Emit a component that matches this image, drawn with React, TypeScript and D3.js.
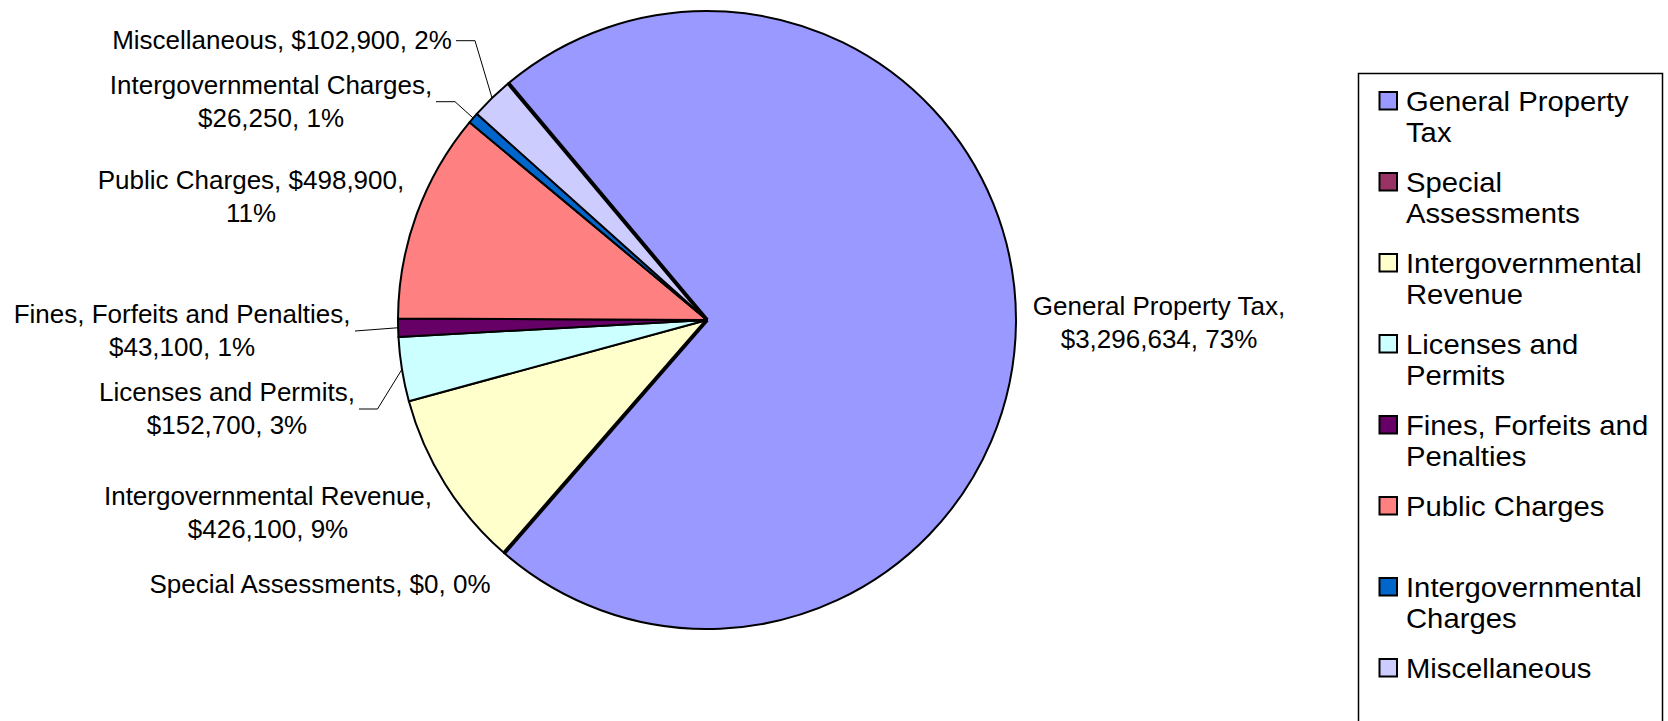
import React from "react";
import * as d3 from "d3";

const categories = [
  "General Property Tax",
  "Special Assessments",
  "Intergovernmental Revenue",
  "Licenses and Permits",
  "Fines, Forfeits and Penalties",
  "Public Charges",
  "Intergovernmental Charges",
  "Miscellaneous",
];
const values = [3296634, 0, 426100, 152700, 43100, 498900, 26250, 102900];
const colors = ["#9999FF", "#993366", "#FFFFCC", "#CCFFFF", "#660066", "#FF8080", "#0066CC", "#CCCCFF"];

// label layout (block centre, number of comma parts on first line, leader)
const labelCx = [1159, 320, 268, 227, 182, 251, 271, 282];
const labelCy = [322, 584, 512, 408, 330, 196, 101, 40];
const labelBreak = [1, 3, 1, 1, 1, 2, 1, 3];
const leaderStart = [null, null, null, [359, 377.5, 409], [355, null, 331], null, [436, 455, 101.7], [456, 475, 40.7]];
// legend wrap: number of words on the first line (0 = no wrap)
const legendBreak = [2, 1, 1, 2, 3, 0, 1, 0];

const W = 1668;
const H = 721;
const CX = 707;
const CY = 320;
const R = 309;
const FONT = "'Liberation Sans', Arial, Helvetica, sans-serif";
const LINE = 33;

export default function App() {
  const total = d3.sum(values);
  const pie = d3
    .pie<number>()
    .sort(null)
    .value((d) => d)
    .startAngle((-40 * Math.PI) / 180)
    .endAngle((320 * Math.PI) / 180);
  const arcs = pie(values);
  const arc = d3.arc<d3.PieArcDatum<number>>().innerRadius(0).outerRadius(R);
  const edge = d3.arc<d3.PieArcDatum<number>>().innerRadius(R).outerRadius(R);
  const money = d3.format("$,");
  const pct = (v: number) => Math.round((v / total) * 100) + "%";

  const labelLines = values.map((v, i) => {
    const parts = [categories[i], money(v), pct(v)];
    const k = labelBreak[i];
    if (k >= parts.length) return [parts.join(", ")];
    return [parts.slice(0, k).join(", ") + ",", parts.slice(k).join(", ")];
  });

  const legendLines = categories.map((c, i) => {
    const words = c.split(" ");
    const k = legendBreak[i];
    if (!k || k >= words.length) return [c];
    return [words.slice(0, k).join(" "), words.slice(k).join(" ")];
  });

  const gpt = arcs[0];
  const radial = (a: number) => [CX + R * Math.sin(a), CY - R * Math.cos(a)];

  return (
    <svg
      width={W}
      height={H}
      style={{ position: "absolute", left: 0, top: 0, background: "#fff" }}
      fontFamily={FONT}
    >
      <rect x={0} y={0} width={W} height={H} fill="#fff" />
      <g transform={`translate(${CX},${CY})`}>
        {arcs.map((a, i) => (
          <path key={i} d={arc(a) || ""} fill={colors[i]} stroke="#000" strokeWidth={2} strokeLinejoin="round" />
        ))}
      </g>
      {[gpt.startAngle, gpt.endAngle].map((a, i) => {
        const [x, y] = radial(a);
        return <line key={i} x1={CX} y1={CY} x2={x} y2={y} stroke="#000" strokeWidth={4} strokeLinecap="butt" />;
      })}
      {/* leader lines */}
      {arcs.map((a, i) => {
        const l = leaderStart[i];
        if (!l) return null;
        const [ex, ey] = edge.centroid(a);
        const pts: [number, number][] = [[l[0] as number, l[2] as number]];
        if (l[1] != null) pts.push([l[1] as number, l[2] as number]);
        pts.push([CX + ex, CY + ey]);
        return (
          <polyline key={i} points={pts.map((p) => p.join(",")).join(" ")} fill="none" stroke="#000" strokeWidth={1} />
        );
      })}
      {/* data labels */}
      {labelLines.map((lines, i) => (
        <text key={i} fontSize={26} textAnchor="middle" fill="#000">
          {lines.map((t, j) => (
            <tspan key={j} x={labelCx[i]} y={labelCy[i] + (j - (lines.length - 1) / 2) * LINE + 9}>
              {t}
            </tspan>
          ))}
        </text>
      ))}
      {/* legend */}
      <rect x={1358.5} y={73.5} width={304} height={700} fill="#fff" stroke="#000" strokeWidth={1.5} />
      {categories.map((c, i) => {
        const y0 = 101 + i * 81;
        return (
          <g key={i}>
            <rect x={1379.5} y={y0 - 9} width={17.5} height={17.5} fill={colors[i]} stroke="#000" strokeWidth={2} />
            {legendLines[i].map((t, j) => (
              <text
                key={j}
                transform={`translate(1406,${y0 + 9.5 + j * 31}) scale(1.125,1.04)`}
                fontSize={26}
                fill="#000"
              >
                {t}
              </text>
            ))}
          </g>
        );
      })}
    </svg>
  );
}
